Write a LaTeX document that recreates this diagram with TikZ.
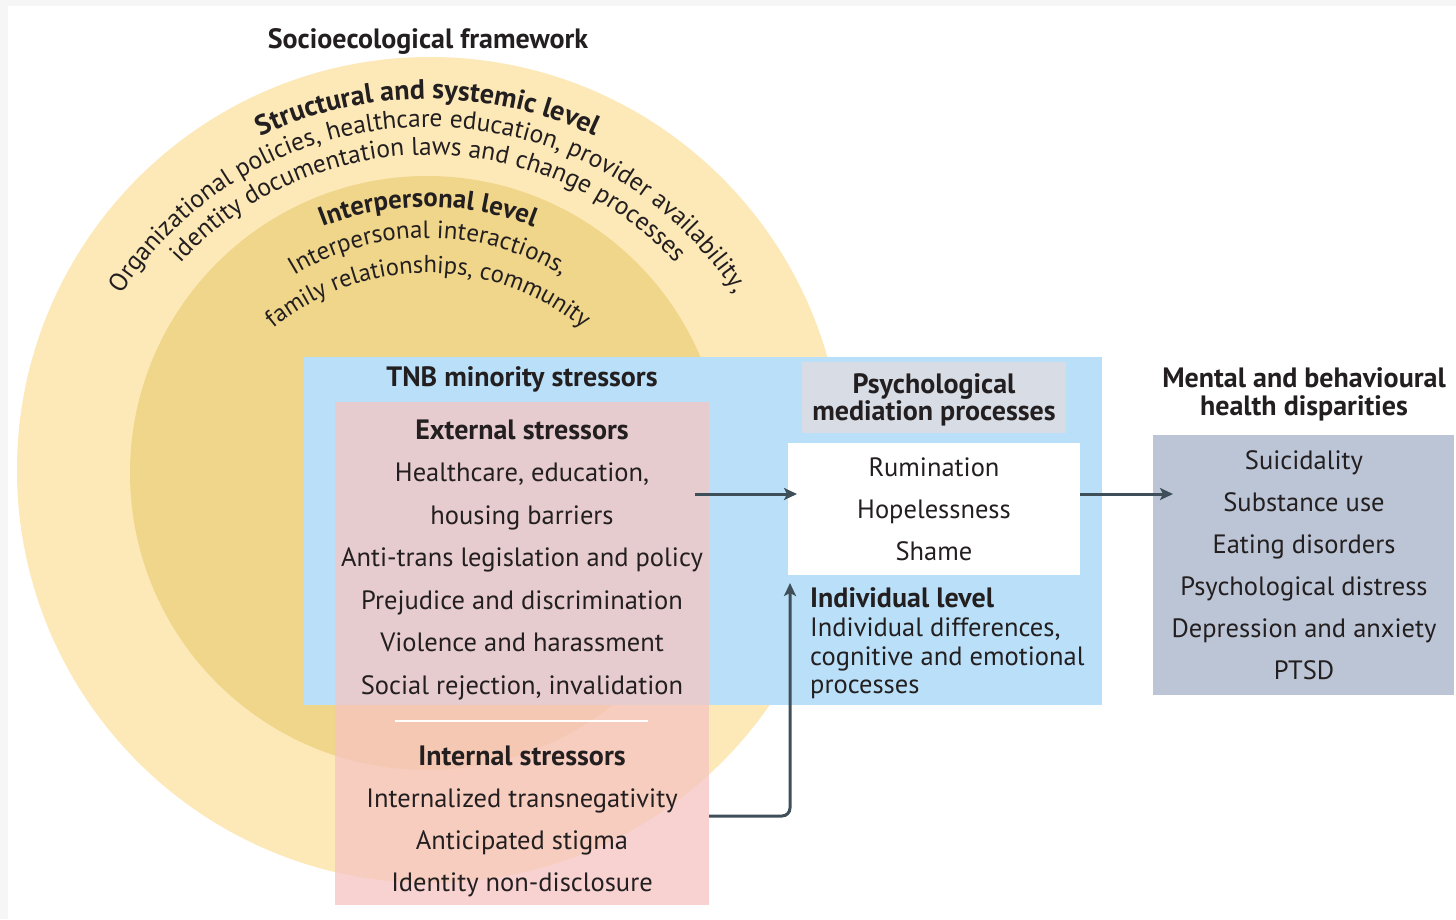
\documentclass[tikz,border=0pt]{standalone}
\usepackage{fontspec}
\setmainfont{PT Sans}
\usetikzlibrary{decorations.text,arrows.meta}
\definecolor{outery}{HTML}{FDE9B7}
\definecolor{innery}{HTML}{F0D68A}
\definecolor{bluebg}{HTML}{B9E0F8}
\definecolor{pinkbg}{HTML}{F6C4C2}
\definecolor{medhead}{HTML}{D7DCE5}
\definecolor{outbox}{HTML}{BCC5D5}
\definecolor{arrowc}{HTML}{3E4F5A}
\definecolor{txt}{HTML}{231F20}
\definecolor{frame}{HTML}{F6F6F6}
\begin{document}
\begin{tikzpicture}[x=1pt,y=-1pt,
  reg/.style={font=\fontsize{26.5}{30}\selectfont, anchor=base, inner sep=0pt, text=txt},
  hd/.style={font=\fontsize{28}{32}\selectfont\bfseries, anchor=base, inner sep=0pt, text=txt},
  lft/.style={reg, anchor=base west},
  hdl/.style={hd, anchor=base west},
  box/.style={draw=none, inner sep=0pt, outer sep=0pt, anchor=north west},
  conn/.style={draw=arrowc, line width=3pt, -{Stealth[length=13pt,width=12pt,inset=3pt]}},
]
\useasboundingbox (0,0) rectangle (1456,919);
\fill[frame] (0,0) rectangle (1456,919);
\fill[white] (8,6) rectangle (1456,919);
% circles
\fill[outery] (430,470) circle[radius=413];
\fill[innery] (427,473) circle[radius=297];
% arc texts
\path[decorate, decoration={text along path, text align=center,
  text={|\fontsize{28}{30}\selectfont\bfseries\color{txt}|Structural and systemic level}}]
  (428,492) ++(-179:393) arc[start angle=-179, end angle=-1, radius=393];
\path[decorate, decoration={text along path, text align=center,
  text={|\fontsize{25.5}{28}\selectfont\color{txt}|Organizational policies, healthcare education, provider availability,}}]
  (428,492) ++(-179:365) arc[start angle=-179, end angle=-1, radius=365];
\path[decorate, decoration={text along path, text align=center,
  text={|\fontsize{25.5}{28}\selectfont\color{txt}|identity documentation laws and change processes}}]
  (428,492) ++(-179:337) arc[start angle=-179, end angle=-1, radius=337];
\path[decorate, decoration={text along path, text align=center,
  text={|\fontsize{26.8}{30}\selectfont\bfseries\color{txt}|Interpersonal level}}]
  (428,495) ++(-179:288) arc[start angle=-179, end angle=-1, radius=288];
\path[decorate, decoration={text along path, text align=center,
  text={|\fontsize{25}{28}\selectfont\color{txt}|Interpersonal interactions,}}]
  (428,495) ++(-179:257) arc[start angle=-179, end angle=-1, radius=257];
\path[decorate, decoration={text along path, text align=center,
  text={|\fontsize{24.5}{28}\selectfont\color{txt}|family relationships, community}}]
  (428,515) ++(-179:242) arc[start angle=-179, end angle=-1, radius=242];
% title
\node[hd] (title) at (428,48) {Socioecological framework};
% boxes
\node[box, fill=bluebg, minimum width=798pt, minimum height=348pt] (tnb) at (304,357) {};
\node[box, fill=medhead, minimum width=264pt, minimum height=71pt] (medh) at (802,362) {};
\node[box, fill=white, minimum width=292pt, minimum height=132pt] (med) at (788,443) {};
\node[box, fill=pinkbg, fill opacity=0.75, minimum width=374pt, minimum height=503pt] (ext) at (335,402) {};
\node[box, fill=outbox, minimum width=301pt, minimum height=260pt] (outb) at (1153,435) {};
\draw[white, line width=2pt] (395,721) -- (648,721);
% TNB texts
\node[hd] (tnbh) at (522,386) {TNB minority stressors};
\node[hd] (exth) at (522,439) {External stressors};
\node[reg] (e1) at (522,481) {Healthcare, education,};
\node[reg] (e2) at (522,524) {housing barriers};
\node[reg] (e3) at (522,566) {Anti-trans legislation and policy};
\node[reg] (e4) at (522,609) {Prejudice and discrimination};
\node[reg] (e5) at (522,651) {Violence and harassment};
\node[reg] (e6) at (522,694) {Social rejection, invalidation};
\node[hd] (inth) at (522,765) {Internal stressors};
\node[reg] (i1) at (522,807) {Internalized transnegativity};
\node[reg] (i2) at (522,849) {Anticipated stigma};
\node[reg] (i3) at (522,891) {Identity non-disclosure};
% mediation
\node[hd] (mh1) at (934,393) {Psychological};
\node[hd] (mh2) at (934,420) {mediation processes};
\node[reg] (m1) at (934,476) {Rumination};
\node[reg] (m2) at (934,518) {Hopelessness};
\node[reg] (m3) at (934,560) {Shame};
\node[hdl] (ilh) at (810,607) {Individual level};
\node[lft] (il1) at (810,636) {Individual differences,};
\node[lft] (il2) at (810,665) {cognitive and emotional};
\node[lft] (il3) at (810,693) {processes};
% outcomes
\node[hd] (oh1) at (1304,387) {Mental and behavioural};
\node[hd] (oh2) at (1304,415) {health disparities};
\node[reg] (o1) at (1304,469) {Suicidality};
\node[reg] (o2) at (1304,511) {Substance use};
\node[reg] (o3) at (1304,553) {Eating disorders};
\node[reg] (o4) at (1304,595) {Psychological distress};
\node[reg] (o5) at (1304,637) {Depression and anxiety};
\node[reg] (o6) at (1304,679) {PTSD};
% connectors
\coordinate (a1s) at (695,494);
\coordinate (a3y) at (700,816);
\draw[conn, shorten >=-9pt] (a1s) -- (a1s -| med.west);
\draw[conn, shorten >=-20pt] (a1s -| med.east) -- (a1s -| outb.west);
\draw[conn, rounded corners=8pt, shorten >=8pt] (ext.east |- a3y) -| ([xshift=2pt]med.south west);
\end{tikzpicture}
\end{document}
